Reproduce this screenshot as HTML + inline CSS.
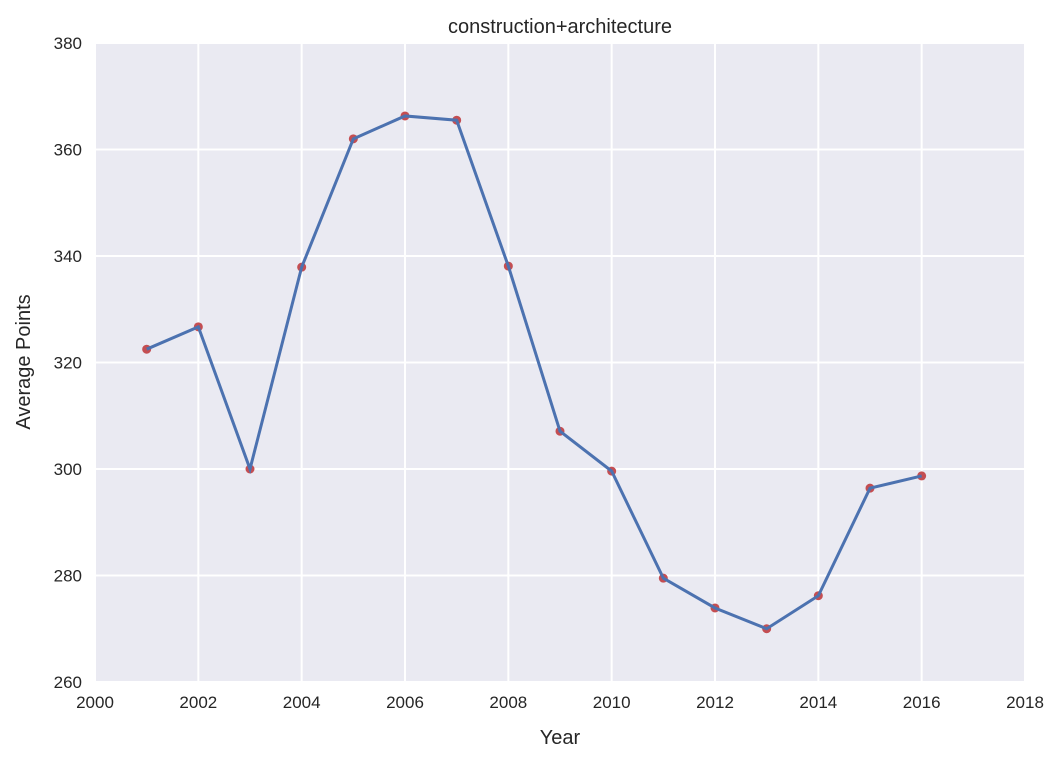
<!DOCTYPE html>
<html><head><meta charset="utf-8"><style>
body{margin:0;background:#fff;}
svg text{font-family:"Liberation Sans",sans-serif;fill:#262626;}
</style></head><body>
<svg id="chart" width="1063" height="763" xmlns="http://www.w3.org/2000/svg">
<rect x="95" y="43" width="930" height="639" fill="#EAEAF2"/>
<g id="grid"></g>
<g id="ticks"></g>
<text x="560" y="33" font-size="20" text-anchor="middle">construction+architecture</text>
<text x="560" y="744" font-size="20" text-anchor="middle">Year</text>
<text x="0" y="0" font-size="20" text-anchor="middle" transform="translate(30,362) rotate(-90)">Average Points</text>
<g id="dots"></g>
<g id="series"></g>
</svg>
<script>
const years=[2001,2002,2003,2004,2005,2006,2007,2008,2009,2010,2011,2012,2013,2014,2015,2016];
const points=[322.5,326.7,300.0,337.9,362.0,366.3,365.5,338.1,307.1,299.6,279.5,273.9,270.0,276.2,296.4,298.7];
const xTicks=[2000,2002,2004,2006,2008,2010,2012,2014,2016,2018];
const yTicks=[260,280,300,320,340,360,380];
const NS="http://www.w3.org/2000/svg";
const X=v=>95+(v-2000)/18*930;
const Y=v=>682-(v-260)/120*639;
function mk(t,a,p){const e=document.createElementNS(NS,t);for(const k in a)e.setAttribute(k,a[k]);p.appendChild(e);return e;}
const grid=document.getElementById('grid'),ticks=document.getElementById('ticks'),series=document.getElementById('series'),dots=document.getElementById('dots');
xTicks.forEach(t=>{
 const l=mk('line',{x1:X(t),x2:X(t),y1:43,y2:682,stroke:'#fff','stroke-width':2},grid);
 
 
 const tx=mk('text',{x:X(t),y:708,'font-size':17,'text-anchor':'middle'},ticks);tx.textContent=t;
 
 
});
yTicks.forEach(t=>{
 const l=mk('line',{x1:95,x2:1025,y1:Y(t),y2:Y(t),stroke:'#fff','stroke-width':2},grid);
 
 
 const tx=mk('text',{x:82,y:Y(t)+6,'font-size':17,'text-anchor':'end'},ticks);tx.textContent=t;
 
 
});
years.forEach((y,i)=>{
 const c=mk('circle',{cx:X(y),cy:Y(points[i]),r:4.5,fill:'#C44E52'},dots);
 
 
});
const pl=mk('polyline',{points:years.map((y,i)=>X(y)+','+Y(points[i])).join(' '),fill:'none',stroke:'#4C72B0','stroke-width':3},series);


</script>
</body></html>
